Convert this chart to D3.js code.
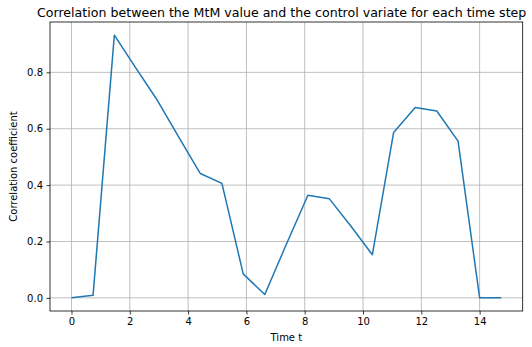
<!DOCTYPE html>
<html>
<head>
<meta charset="utf-8">
<script src="https://cdn.jsdelivr.net/npm/d3@7"></script>
<style>
  body { margin: 0; background: #fff; }
  svg { display: block; font-family: 'DejaVu Sans', sans-serif; }
</style>
</head>
<body>
<script>
// time steps and correlation values
const times = [0, 0.74, 1.47, 2.21, 2.95, 3.68, 4.42, 5.16, 5.89, 6.63, 7.37,
  8.11, 8.84, 9.58, 10.32, 11.05, 11.79, 12.53, 13.26, 14.0, 14.74];
const corr = [0, 0.009, 0.932, 0.815, 0.70, 0.57, 0.441, 0.406, 0.085, 0.012, 0.19,
  0.364, 0.352, 0.255, 0.153, 0.587, 0.675, 0.663, 0.556, 0, 0];
const xTicks = [0, 2, 4, 6, 8, 10, 12, 14];
const yTicks = [0, 0.2, 0.4, 0.6, 0.8];

const width = 532, height = 347;
const marginTop = 22, marginRight = 9.3, marginBottom = 36, marginLeft = 50;

const data = times.map((t, i) => ({ t, v: corr[i] }));

// matplotlib-style 5% margins
const pad = (lo, hi) => [lo - (hi - lo) * 0.05, hi + (hi - lo) * 0.05];
const x = d3.scaleLinear(pad(d3.min(times), d3.max(times)), [marginLeft, width - marginRight]);
const y = d3.scaleLinear(pad(d3.min(corr), d3.max(corr)), [height - marginBottom, marginTop]);

const svg = d3.select('body').append('svg')
  .attr('width', width)
  .attr('height', height)
  .attr('viewBox', [0, 0, width, height]);

// grid
svg.append('g')
  .attr('stroke', '#b0b0b0')
  .attr('stroke-width', 0.8)
  .call(g => g.selectAll('.gx').data(xTicks).join('line')
    .attr('x1', d => x(d)).attr('x2', d => x(d))
    .attr('y1', marginTop).attr('y2', height - marginBottom))
  .call(g => g.selectAll('.gy').data(yTicks).join('line')
    .attr('class', 'gy')
    .attr('x1', marginLeft).attr('x2', width - marginRight)
    .attr('y1', d => y(d)).attr('y2', d => y(d)));

// the series
svg.append('path')
  .datum(data)
  .attr('fill', 'none')
  .attr('stroke', '#1f77b4')
  .attr('stroke-width', 1.5)
  .attr('stroke-linejoin', 'round')
  .attr('d', d3.line().x(d => x(d.t)).y(d => y(d.v)));

// axes
const xAxis = d3.axisBottom(x).tickValues(xTicks).tickFormat(d3.format('d'))
  .tickSizeInner(3.5).tickSizeOuter(0).tickPadding(3.5);
const yAxis = d3.axisLeft(y).tickValues(yTicks).tickFormat(d3.format('.1f'))
  .tickSizeInner(3.5).tickSizeOuter(0).tickPadding(3.5);

svg.append('g')
  .attr('transform', `translate(0,${height - marginBottom})`)
  .call(xAxis)
  .call(g => g.select('.domain').remove())
  .call(g => g.selectAll('.tick line').attr('stroke', '#000').attr('stroke-width', 0.8))
  .call(g => g.selectAll('.tick text').attr('font-size', 10).attr('font-family', 'DejaVu Sans').attr('fill', '#000'));

svg.append('g')
  .attr('transform', `translate(${marginLeft},0)`)
  .call(yAxis)
  .call(g => g.select('.domain').remove())
  .call(g => g.selectAll('.tick line').attr('stroke', '#000').attr('stroke-width', 0.8))
  .call(g => g.selectAll('.tick text').attr('font-size', 10).attr('font-family', 'DejaVu Sans').attr('fill', '#000'));

// frame
svg.append('rect')
  .attr('x', marginLeft)
  .attr('y', marginTop)
  .attr('width', width - marginLeft - marginRight)
  .attr('height', height - marginTop - marginBottom)
  .attr('fill', 'none')
  .attr('stroke', '#000')
  .attr('stroke-width', 0.8);

const cx = (marginLeft + width - marginRight) / 2;

svg.append('text')
  .attr('x', 37)
  .attr('y', 16.5)
  .attr('text-anchor', 'start')
  .attr('font-size', 12.6)
  .text('Correlation between the MtM value and the control variate for each time step');

svg.append('text')
  .attr('x', cx)
  .attr('y', 341)
  .attr('text-anchor', 'middle')
  .attr('font-size', 10)
  .text('Time t');

svg.append('text')
  .attr('transform', `translate(17,${(marginTop + height - marginBottom) / 2}) rotate(-90)`)
  .attr('text-anchor', 'middle')
  .attr('font-size', 10)
  .text('Correlation coefficient');
</script>
</body>
</html>
